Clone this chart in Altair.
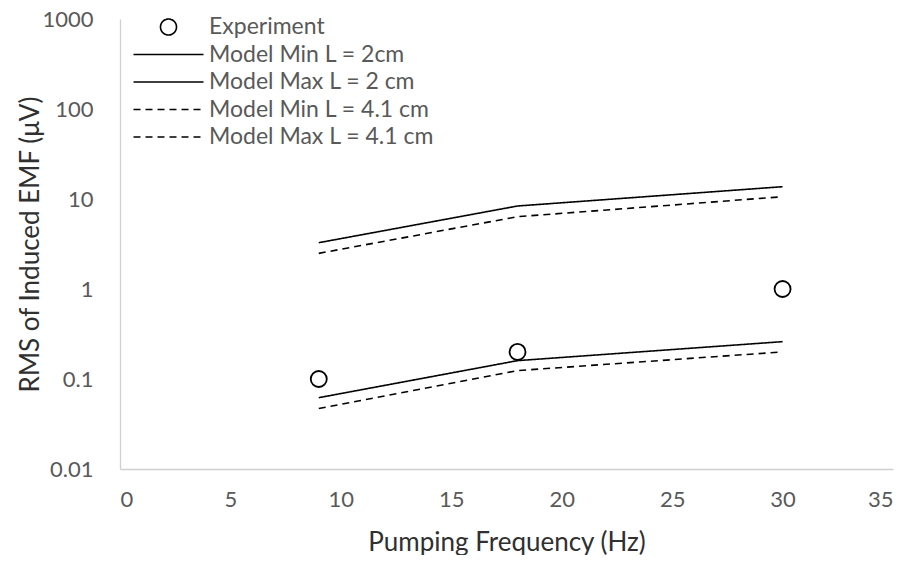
import altair as alt
import pandas as pd

freq = [9, 18, 30]
experiment = [0.1, 0.2, 1.0]
model_min_2 = [0.062, 0.16, 0.26]
model_max_2 = [3.27, 8.36, 13.7]
model_min_41 = [0.047, 0.124, 0.20]
model_max_41 = [2.49, 6.36, 10.6]

series_names = ["Experiment", "Model Min L = 2cm", "Model Max L = 2 cm",
                "Model Min L = 4.1 cm", "Model Max L = 4.1 cm"]
x_ticks = [0, 5, 10, 15, 20, 25, 30, 35]
y_ticks = [0.01, 0.1, 1, 10, 100, 1000]

exp_df = pd.DataFrame({"f": freq, "v": experiment, "series": series_names[0]})
rows = []
for name, vals in zip(series_names[1:], [model_min_2, model_max_2, model_min_41, model_max_41]):
    for f, v in zip(freq, vals):
        rows.append({"f": f, "v": v, "series": name})
model_df = pd.DataFrame(rows)

FONT = "Lato"
circle_path = "M-1.6,0A1.6,1.6 0 1,1 1.6,0A1.6,1.6 0 1,1 -1.6,0Z"
stroke_path = "M-7,0L7,0"

x_enc = alt.X("f:Q", scale=alt.Scale(domain=[0, 35], nice=False),
              axis=alt.Axis(values=x_ticks, title="Pumping Frequency (Hz)", grid=False,
                            ticks=False, labelPadding=20, titleY=60, titleBaseline="top"))
y_enc = alt.Y("v:Q", scale=alt.Scale(type="log", domain=[0.01, 1000], nice=False),
              axis=alt.Axis(values=y_ticks, format="~g", title="RMS of Induced EMF (μV)",
                            grid=False, ticks=False, labelPadding=27, titleX=-77))

legend = alt.Legend(title=None, orient="none", legendX=37, legendY=-3.5, padding=0,
                    labelOffset=29, rowPadding=3.5, symbolSize=100, symbolStrokeWidth=1.6,
                    symbolStrokeColor="black", labelFontSize=23, labelColor="#595959",
                    labelFont=FONT, labelLimit=0)

lines = alt.Chart(model_df).mark_line(color="black", strokeWidth=1.6).encode(
    x=x_enc, y=y_enc,
    strokeDash=alt.StrokeDash("series:N",
                              scale=alt.Scale(domain=series_names,
                                              range=[[1, 0], [1, 0], [1, 0], [7, 5], [7, 5]]),
                              legend=legend),
)

points = alt.Chart(exp_df).mark_point(color="black", filled=False, size=100, strokeWidth=1.8,
                                      opacity=1).encode(
    x=x_enc, y=y_enc,
    shape=alt.Shape("series:N",
                    scale=alt.Scale(domain=series_names,
                                    range=[circle_path, stroke_path, stroke_path, stroke_path, stroke_path]),
                    legend=legend),
)

chart = alt.layer(lines, points).properties(
    width=773, height=450,
    autosize=alt.AutoSizeParams(type="none"),
    padding={"left": 112, "top": 11, "right": 9, "bottom": 86},
).configure_view(stroke=None).configure_axis(
    domainColor="#d0d0d0", domainWidth=1.3,
    labelFont=FONT, labelFontSize=22, labelColor="#595959",
    titleFont=FONT, titleFontSize=26, titleColor="#303030", titleFontWeight="normal",
)

chart.save("out.html", embed_options={"renderer": "svg", "actions": False})
